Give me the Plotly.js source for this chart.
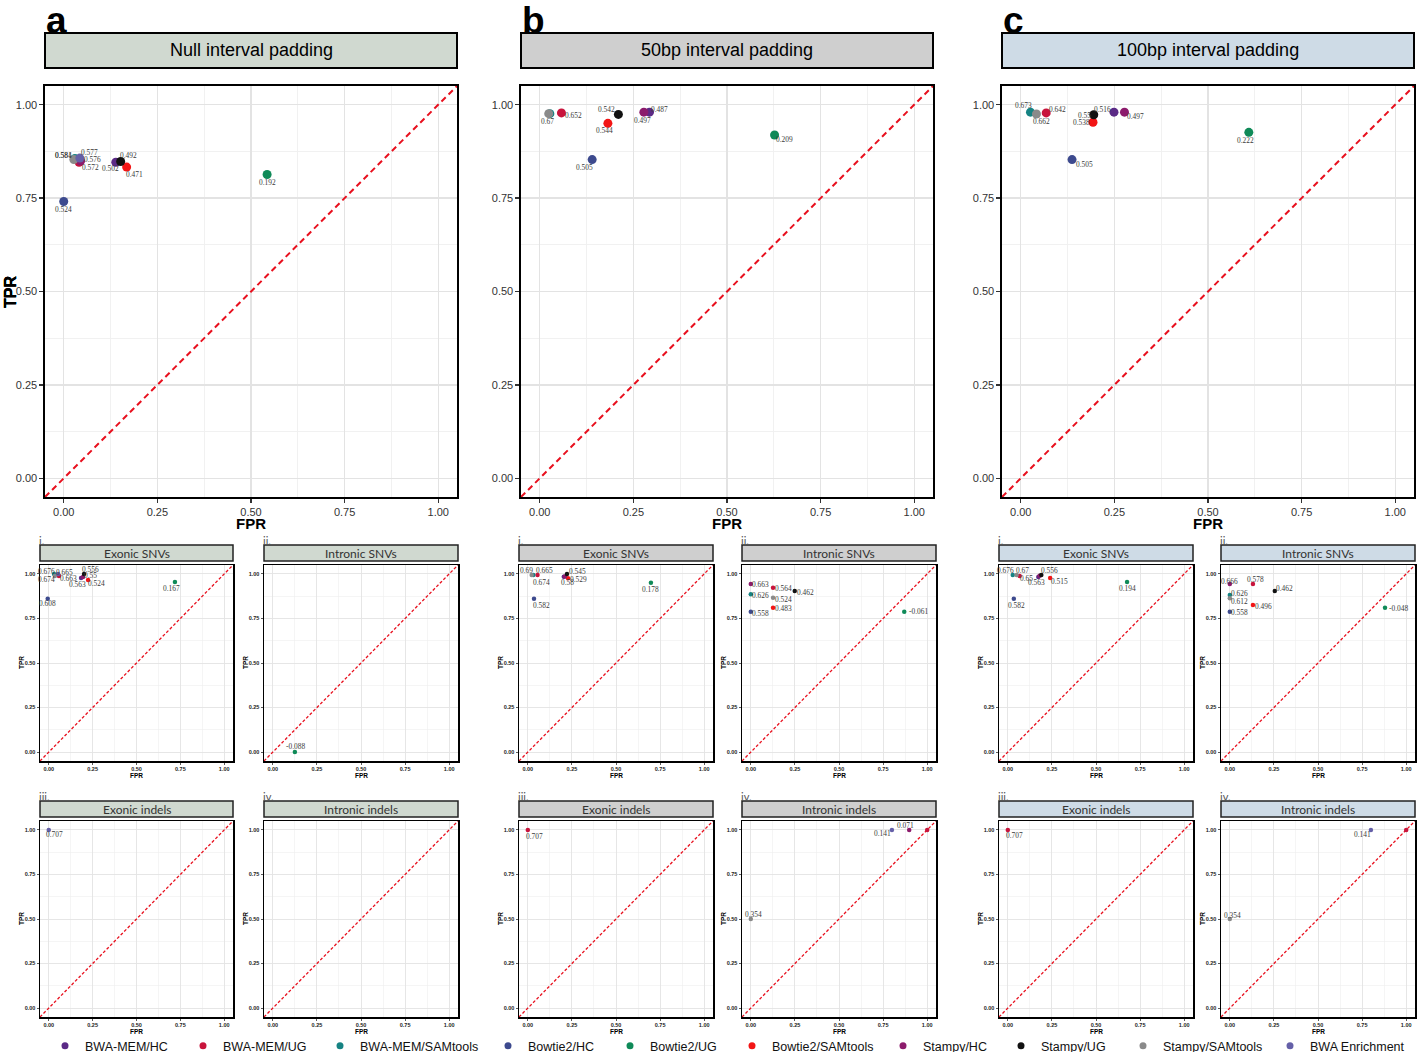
<!DOCTYPE html>
<html><head><meta charset="utf-8">
<script src="https://cdn.plot.ly/plotly-3.0.1.min.js"></script>
<style>html,body{margin:0;padding:0;background:#fff;overflow:hidden}</style>
</head><body><div id="chart" style="width:1425px;height:1052px"></div>
<script>
// ---------------- DATA ----------------
const methods = ['BWA-MEM/HC','BWA-MEM/UG','BWA-MEM/SAMtools','Bowtie2/HC','Bowtie2/UG','Bowtie2/SAMtools','Stampy/HC','Stampy/UG','Stampy/SAMtools','BWA Enrichment'];
const methodColors = ['#5B2A86','#C8143C','#168383','#3D4A8E','#0F8A58','#F21515','#8C1B6C','#111111','#8A8A8A','#6560A8'];
const tickVals = [0, 0.25, 0.5, 0.75, 1];
const tickText = ['0.00','0.25','0.50','0.75','1.00'];
const axisRange = [-0.05, 1.05];
const panelTitles = ['Null interval padding','50bp interval padding','100bp interval padding'];
const panelLetters = ['a','b','c'];
const subTitles = ['Exonic SNVs','Intronic SNVs','Exonic indels','Intronic indels'];
const subNumerals = ['i.','ii.','iii.','iv.'];

// a: Null interval padding (all variants)
const fprA = [0.139, 0.041, 0.030, 0.000, 0.543, 0.168, 0.045, 0.152, 0.027, 0.043];
const tprA = [0.846, 0.846, 0.856, 0.741, 0.813, 0.833, 0.849, 0.848, 0.853, 0.857];
const labA = ['0.502','0.576','0.581','0.524','0.192','0.471','0.572','0.492','0.584','0.577'];
// b: 50bp interval padding
const fprB = [0.293, 0.058, 0.027, 0.140, 0.627, 0.182, 0.278, 0.210, 0.024, null];
const tprB = [0.980, 0.978, 0.976, 0.853, 0.919, 0.950, 0.980, 0.974, 0.976, null];
const labB = ['0.487','0.652','0.67','0.505','0.209','0.544','0.497','0.542','', null];
// c: 100bp interval padding
const fprC = [0.249, 0.068, 0.026, 0.137, 0.609, 0.193, 0.277, 0.195, 0.042, null];
const tprC = [0.980, 0.978, 0.980, 0.853, 0.926, 0.953, 0.980, 0.973, 0.975, null];
const labC = ['0.516','0.642','0.673','0.505','0.222','0.538','0.497','0.55','0.662', null];

// sub panels (i. Exonic SNVs, ii. Intronic SNVs, iii. Exonic indels, iv. Intronic indels)
const fprAi = [0.184, 0.058, 0.030, -0.006, 0.719, 0.224, 0.195, 0.201, 0.035, 0.053];
const tprAi = [0.977, 0.988, 1.000, 0.860, 0.955, 0.966, 0.983, 1.000, 0.988, 1.000];
const labAi = ['0.563','0.663','0.676','0.608','0.167','0.524','0.55','0.556','0.674','0.665'];
const fprAii = [null, null, null, null, 0.125, null, null, null, null, null];
const tprAii = [null, null, null, null, 0.000, null, null, null, null, null];
const labAii = [null, null, null, null, '-0.088', null, null, null, null, null];
const fprAiii = [null, null, null, null, null, null, null, null, null, 0.000];
const tprAiii = [null, null, null, null, null, null, null, null, null, 1.000];
const labAiii = [null, null, null, null, null, null, null, null, null, '0.707'];
const fprAiv = [null, null, null, null, null, null, null, null, null, null];
const tprAiv = [null, null, null, null, null, null, null, null, null, null];
const labAiv = [null, null, null, null, null, null, null, null, null, null];

const fprBi = [0.204, 0.055, 0.031, 0.035, 0.698, 0.228, 0.210, 0.222, 0.022, null];
const tprBi = [0.984, 0.994, 0.994, 0.860, 0.950, 0.975, 0.985, 1.000, 0.994, null];
const labBi = ['0.58','0.665','0.674','0.582','0.178','0.529','','0.545','0.69', null];
const fprBii = [null, 0.126, 0.000, 0.000, 0.870, 0.126, 0.000, 0.249, 0.126, null];
const tprBii = [null, 0.923, 0.886, 0.788, 0.788, 0.810, 0.943, 0.904, 0.866, null];
const labBii = [null, '0.564','0.626','0.558','-0.061','0.483','0.663','0.462','0.524', null];
const fprBiii = [null, 0.000, null, null, null, null, null, null, null, null];
const tprBiii = [null, 1.000, null, null, null, null, null, null, null, null];
const labBiii = [null, '0.707', null, null, null, null, null, null, null, null];
const fprBiv = [null, 1.000, null, null, null, null, 0.898, null, 0.000, 0.800];
const tprBiv = [null, 1.000, null, null, null, null, 1.000, null, 0.500, 1.000];
const labBiv = [null, '', null, null, null, null, '0.071', null, '0.354', '0.141'];

const fprCi = [0.173, 0.067, 0.028, 0.034, 0.676, 0.240, 0.180, 0.190, 0.050, null];
const tprCi = [0.983, 0.988, 0.994, 0.860, 0.955, 0.977, 0.990, 0.994, 0.994, null];
const labCi = ['0.563','0.65','0.676','0.582','0.194','0.515','','0.556','0.67', null];
const fprCii = [null, 0.131, 0.000, 0.000, 0.880, 0.131, 0.000, 0.255, 0.000, null];
const tprCii = [null, 0.943, 0.882, 0.788, 0.810, 0.826, 0.943, 0.904, 0.863, null];
const labCii = [null, '0.578','0.626','0.558','-0.048','0.496','0.666','0.462','0.612', null];
const fprCiii = [null, 0.000, null, null, null, null, null, null, null, null];
const tprCiii = [null, 1.000, null, null, null, null, null, null, null, null];
const labCiii = [null, '0.707', null, null, null, null, null, null, null, null];
const fprCiv = [null, 1.000, null, null, null, null, null, null, 0.000, 0.800];
const tprCiv = [null, 1.000, null, null, null, null, null, null, 0.500, 1.000];
const labCiv = [null, '', null, null, null, null, null, null, '0.354', '0.141'];

// label offsets in pixels [dx right, dy down] (layout only)
const offA = [[-5,6],[13,-3],[-11,-3],[0,8],[0,8],[8,7],[10,6],[8,-6],[-10,-4],[10,-6]];
const offB = [[10,-3],[12,3],[-2,8],[-8,8],[10,5],[-3,7],[-1,8],[-12,-5],[0,0],[0,0]];
const offC = [[-11,-3],[11,-3],[-7,-7],[12,5],[-3,8],[-12,0],[11,4],[-9,1],[5,7],[0,0]];
const offAi = [[-4,6],[10,2],[-8,-2],[0,5],[-3,7],[8,4],[8,-1],[6,-4],[-8,3],[6,-1]];
const offAii = [[0,0],[0,0],[0,0],[0,0],[1,-6],[0,0],[0,0],[0,0],[0,0],[0,0]];
const offAiii = [[0,0],[0,0],[0,0],[0,0],[0,0],[0,0],[0,0],[0,0],[0,0],[6,5]];
const offBi = [[4,6],[7,-4],[8,8],[8,7],[0,7],[10,1],[0,0],[11,-2],[-5,-4],[0,0]];
const offBii = [[0,0],[10,1],[10,1],[10,2],[14,0],[10,1],[10,0],[11,1],[10,2],[0,0]];
const offBiii = [[0,0],[7,7],[0,0],[0,0],[0,0],[0,0],[0,0],[0,0],[0,0],[0,0]];
const offBiv = [[0,0],[0,0],[0,0],[0,0],[0,0],[0,0],[-4,-4],[0,0],[3,-5],[-9,4]];
const offCi = [[-2,6],[7,2],[-7,-4],[3,7],[0,7],[9,3],[0,0],[8,-4],[6,-4],[0,0]];
const offCii = [[0,0],[3,-5],[10,-1],[10,1],[13,1],[11,2],[0,-3],[10,-3],[10,3],[0,0]];
const offCiii = [[0,0],[7,6],[0,0],[0,0],[0,0],[0,0],[0,0],[0,0],[0,0],[0,0]];
const offCiv = [[0,0],[0,0],[0,0],[0,0],[0,0],[0,0],[0,0],[0,0],[3,-4],[-8,5]];

// ---------------- LAYOUT ----------------
const W = 1425, H = 1052;
const PX = v => v / W, PY = v => 1 - v / H;
const stripFill = ['#D0D9D0', '#CFCFCF', '#CEDBE6'];
const legendMarkerPx = [65, 203, 340, 508, 630, 752, 903, 1021, 1143, 1290];

const panels = [
  {n:1, x:[45,457],  y:[86,497], big:true, g:0, fpr:fprA, tpr:tprA, lab:labA, off:offA},
  {n:2, x:[521,933], y:[86,497], big:true, g:1, fpr:fprB, tpr:tprB, lab:labB, off:offB},
  {n:3, x:[1002,1414], y:[86,497], big:true, g:2, fpr:fprC, tpr:tprC, lab:labC, off:offC},
  {n:4, x:[40,233],  y:[565,761], g:0, s:0, fpr:fprAi, tpr:tprAi, lab:labAi, off:offAi},
  {n:5, x:[264,458], y:[565,761], g:0, s:1, fpr:fprAii, tpr:tprAii, lab:labAii, off:offAii},
  {n:6, x:[519,713], y:[565,761], g:1, s:0, fpr:fprBi, tpr:tprBi, lab:labBi, off:offBi},
  {n:7, x:[742,936], y:[565,761], g:1, s:1, fpr:fprBii, tpr:tprBii, lab:labBii, off:offBii},
  {n:8, x:[999,1193], y:[565,761], g:2, s:0, fpr:fprCi, tpr:tprCi, lab:labCi, off:offCi},
  {n:9, x:[1221,1415], y:[565,761], g:2, s:1, fpr:fprCii, tpr:tprCii, lab:labCii, off:offCii},
  {n:10, x:[40,233],  y:[821,1017], g:0, s:2, fpr:fprAiii, tpr:tprAiii, lab:labAiii, off:offAiii},
  {n:11, x:[264,458], y:[821,1017], g:0, s:3, fpr:fprAiv, tpr:tprAiv, lab:labAiv, off:offAii},
  {n:12, x:[519,713], y:[821,1017], g:1, s:2, fpr:fprBiii, tpr:tprBiii, lab:labBiii, off:offBiii},
  {n:13, x:[742,936], y:[821,1017], g:1, s:3, fpr:fprBiv, tpr:tprBiv, lab:labBiv, off:offBiv},
  {n:14, x:[999,1193], y:[821,1017], g:2, s:2, fpr:fprCiii, tpr:tprCiii, lab:labCiii, off:offCiii},
  {n:15, x:[1221,1415], y:[821,1017], g:2, s:3, fpr:fprCiv, tpr:tprCiv, lab:labCiv, off:offCiv},
];

const traces = [];
const layout = {
  width: W, height: H, margin:{l:0,r:0,t:0,b:0,autoexpand:false},
  paper_bgcolor:'#ffffff', plot_bgcolor:'#ffffff',
  showlegend:true, annotations:[], shapes:[],
};
const serif = "'Liberation Serif','DejaVu Serif',serif";
const sans = "'Liberation Sans',Arial,sans-serif";

panels.forEach(p => {
  const xa = p.n === 1 ? 'xaxis' : 'xaxis' + p.n;
  const ya = p.n === 1 ? 'yaxis' : 'yaxis' + p.n;
  const xr = p.n === 1 ? 'x' : 'x' + p.n;
  const yr = p.n === 1 ? 'y' : 'y' + p.n;
  const big = !!p.big;
  const common = {
    range: axisRange, tickvals: tickVals, ticktext: tickText,
    showline:true, mirror:true, linecolor:'#000', linewidth: big ? 1.6 : 1.5,
    ticks:'outside', ticklen: big ? 4 : 2, tickwidth: big ? 1.2 : 0.8, tickcolor:'#333',
    showgrid:true, gridcolor:'#E3E3E3', gridwidth: big ? 1.3 : 0.9,
    minor:{tickvals:[0.125,0.375,0.625,0.875], showgrid:true, gridcolor:'#EFEFEF', gridwidth: big ? 0.9 : 0.6, ticks:''},
    zeroline:false, fixedrange:true, automargin:false,
    tickfont: big ? {family:sans, size:11, color:'#333'} : {family:sans, size:5.5, color:'#222', weight:'bold'},
  };
  layout[xa] = Object.assign({}, common, {domain:[PX(p.x[0]), PX(p.x[1])], anchor:yr});
  layout[ya] = Object.assign({}, common, {domain:[PY(p.y[1]), PY(p.y[0])], anchor:xr});

  // diagonal reference line y = x
  traces.push({type:'scatter', mode:'lines', x:axisRange, y:axisRange, xaxis:xr, yaxis:yr,
    line:{color:'#E8101E', width: big ? 2 : 1.3, dash: big ? '6px,4px' : '3px,2px'},
    hoverinfo:'skip', showlegend:false});
  // points
  traces.push({type:'scatter', mode:'markers', x:p.fpr, y:p.tpr, xaxis:xr, yaxis:yr,
    marker:{color:methodColors, size: big ? 9 : 4.5, line:{width:0}},
    text:methods, hoverinfo:'text+x+y', showlegend:false, cliponaxis:false});
  // point labels
  p.fpr.forEach((f, i) => {
    if (f === null || p.lab[i] === null || p.lab[i] === '') return;
    layout.annotations.push({xref:xr, yref:yr, x:f, y:p.tpr[i], text:p.lab[i], showarrow:false,
      xshift:p.off[i][0], yshift:-p.off[i][1],
      font:{family:serif, size:7.4, color:'#3a3a3a'}});
  });

  if (big) {
    layout.shapes.push({type:'rect', xref:'paper', yref:'paper', x0:PX(p.x[0]), x1:PX(p.x[1]), y0:PY(68), y1:PY(33),
      fillcolor:stripFill[p.g], line:{color:'#000', width:2}});
    layout.annotations.push({xref:'paper', yref:'paper', x:PX((p.x[0]+p.x[1])/2), y:PY(50.5), text:panelTitles[p.g],
      showarrow:false, xanchor:'center', yanchor:'middle', font:{family:sans, size:18, color:'#000'}});
    layout.annotations.push({xref:'paper', yref:'paper', x:PX(p.x[0]-1), y:1, yshift:2, text:'<b>'+panelLetters[p.g]+'</b>',
      showarrow:false, xanchor:'left', yanchor:'top', font:{family:sans, size:37, color:'#000'}});
    layout.annotations.push({xref:'paper', yref:'paper', x:PX(10), y:PY(292), text:'<b>TPR</b>', textangle:-90,
      showarrow:false, xanchor:'center', yanchor:'middle', font:{family:sans, size:16, color:'#000'}});
    layout.annotations.push({xref:'paper', yref:'paper', x:PX((p.x[0]+p.x[1])/2), y:PY(523), text:'<b>FPR</b>',
      showarrow:false, xanchor:'center', yanchor:'middle', font:{family:sans, size:15, color:'#000'}});
  } else {
    const sTop = p.y[0] - 20, sBot = p.y[0] - 4;
    layout.shapes.push({type:'rect', xref:'paper', yref:'paper', x0:PX(p.x[0]), x1:PX(p.x[1]), y0:PY(sBot), y1:PY(sTop),
      fillcolor:stripFill[p.g], line:{color:'#222', width:1.5}});
    layout.annotations.push({xref:'paper', yref:'paper', x:PX((p.x[0]+p.x[1])/2), y:PY((sTop+sBot)/2), text:subTitles[p.s],
      showarrow:false, xanchor:'center', yanchor:'middle', font:{family:"Lato,'Open Sans',sans-serif", size:12, color:'#333'}});
    layout.annotations.push({xref:'paper', yref:'paper', x:PX(p.x[0]-3), y:PY(sTop-5), text:subNumerals[p.s],
      showarrow:false, xanchor:'left', yanchor:'middle', font:{family:"Lato,'Open Sans',sans-serif", size:11, color:'#555'}});
    layout.annotations.push({xref:'paper', yref:'paper', x:PX(p.x[0]-19), y:PY((p.y[0]+p.y[1])/2), text:'<b>TPR</b>', textangle:-90,
      showarrow:false, xanchor:'center', yanchor:'middle', font:{family:sans, size:6.5, color:'#000'}});
    layout.annotations.push({xref:'paper', yref:'paper', x:PX((p.x[0]+p.x[1])/2), y:PY(p.y[1]+14), text:'<b>FPR</b>',
      showarrow:false, xanchor:'center', yanchor:'middle', font:{family:sans, size:6.5, color:'#000'}});
  }
});

// legend: one single-item legend per method, placed along the bottom
methods.forEach((m, i) => {
  const key = i === 0 ? 'legend' : 'legend' + (i + 1);
  layout[key] = {x:PX(legendMarkerPx[i] - 20), xanchor:'left', y:PY(1046), yanchor:'middle',
    orientation:'h', bgcolor:'rgba(0,0,0,0)', borderwidth:0, itemclick:false,
    font:{family:sans, size:12.5, color:'#111'}};
  traces.push({type:'scatter', mode:'markers', x:[null], y:[null], xaxis:'x', yaxis:'y', name:m,
    legend:key, marker:{color:methodColors[i], size:7}, showlegend:true, hoverinfo:'skip'});
});

Plotly.newPlot('chart', traces, layout, {staticPlot:true, displayModeBar:false});
</script>
</body></html>
